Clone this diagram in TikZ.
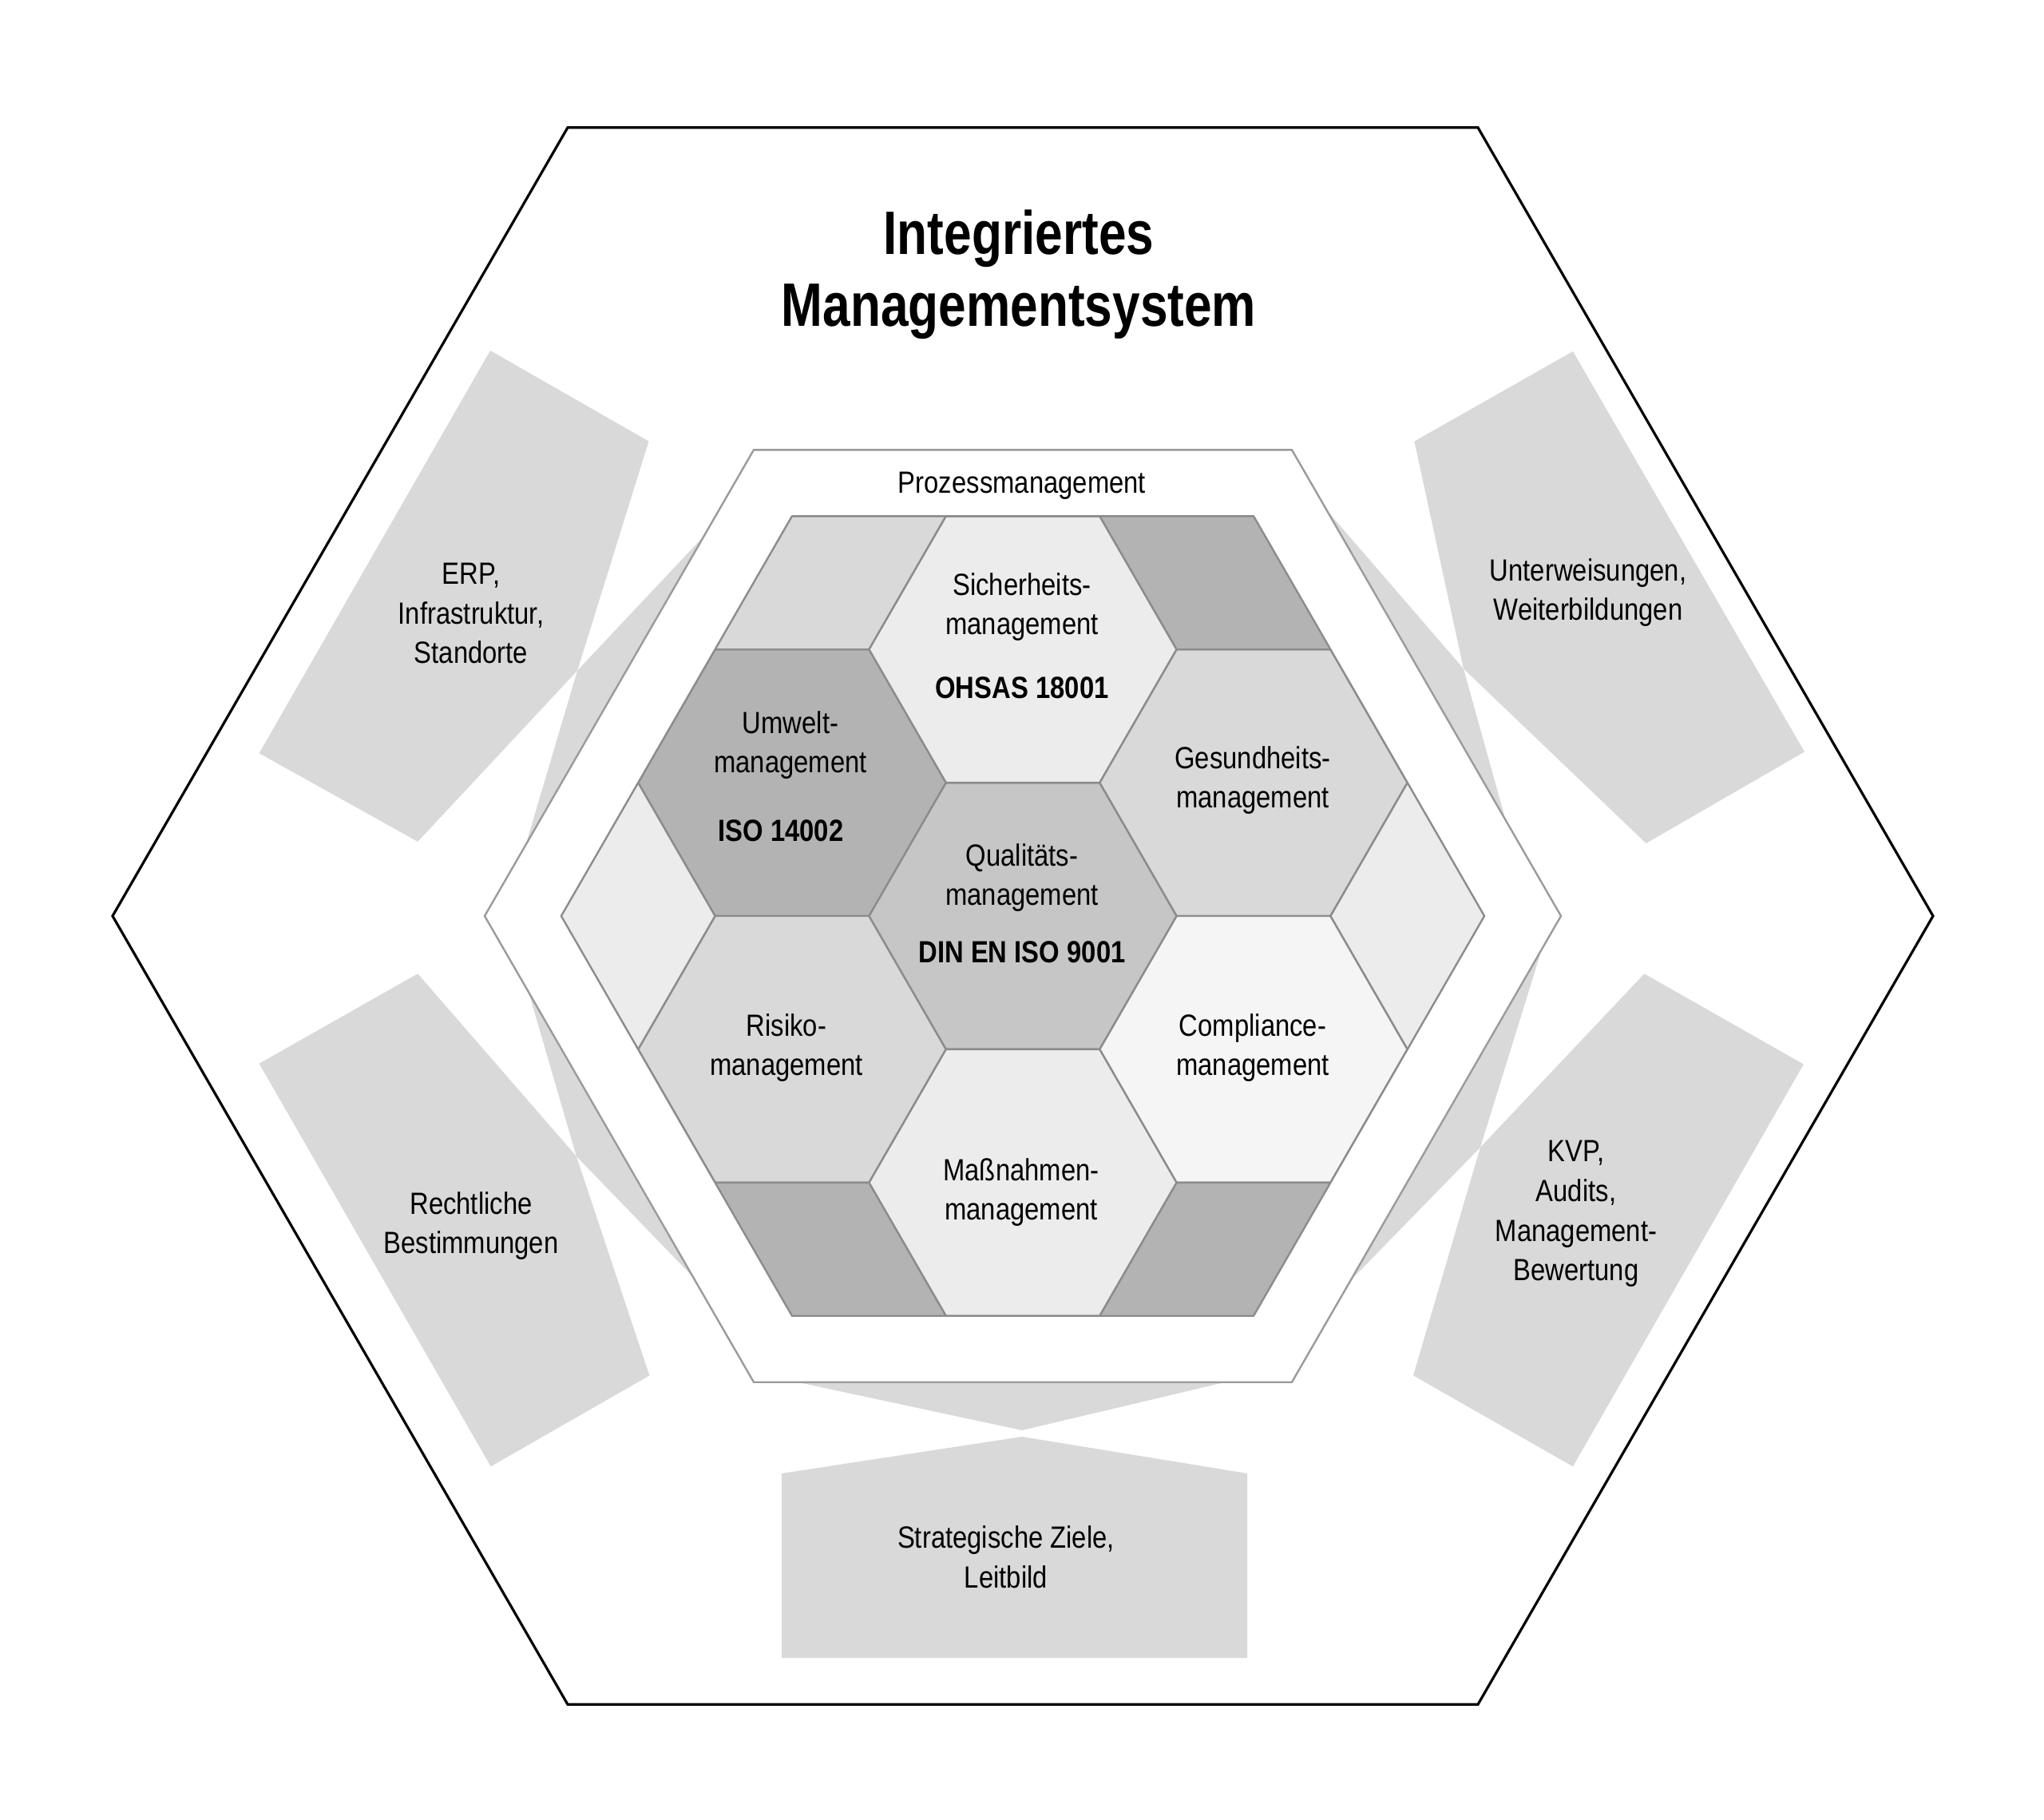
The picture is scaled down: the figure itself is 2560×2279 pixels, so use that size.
\documentclass[tikz,border=0pt]{standalone}
\usepackage{fontspec}
\setmainfont{Liberation Sans}[FakeStretch=0.855]
\newfontfamily\titelfont{Liberation Sans}[FakeStretch=0.81]

\definecolor{flaeche}{HTML}{D9D9D9}
\definecolor{zdunkel}{HTML}{B3B3B3}
\definecolor{zmittel}{HTML}{C6C6C6}
\definecolor{zgrau}{HTML}{D9D9D9}
\definecolor{zhell}{HTML}{ECECEC}
\definecolor{zweiss}{HTML}{F5F5F5}
\definecolor{zellrand}{HTML}{8C8C8C}
\definecolor{prozessrand}{HTML}{9B9B9B}

\begin{document}
\begin{tikzpicture}[x=0.25pt,y=-0.25pt,
    imstext/.style={align=center,font=\fontsize{9.6}{12.4}\selectfont},
    imsbold/.style={font=\fontsize{9.6}{12.4}\selectfont\bfseries},
    imstitle/.style={align=center,font=\titelfont\fontsize{19.2}{22.65}\selectfont\bfseries},
    cell/.style={draw=zellrand,line width=0.6pt,line join=round}]

        \fill[white] (0,0) rectangle (2560,2279);
        \useasboundingbox (0,0) rectangle (2560,2279);

        % aeusseres Sechseck
        \draw[line width=0.8pt] (141,1147) -- (711,159.7) -- (1851,159.7) -- (2421,1147) -- (1851,2134.3) -- (711,2134.3) -- cycle;

        % graue Felder mit Spitzen
        \fill[flaeche] (614,439) -- (812.5,552.6) -- (723.2,839.6) -- (523.2,1053.9) -- (324.6,943.2) -- cycle;
        \fill[flaeche] (723.2,839.6) -- (911,640) -- (1281,1147) -- (640,1120) -- cycle;

        \fill[flaeche] (1970,440) -- (2260,941.4) -- (2061.6,1056) -- (1833,837.4) -- (1771.4,552.6) -- cycle;
        \fill[flaeche] (1833,837.4) -- (1628,600) -- (1281,1147) -- (1906,1100) -- cycle;

        \fill[flaeche] (523.2,1219.3) -- (721.9,1447.9) -- (813.4,1722.4) -- (614.7,1836.3) -- (324.6,1331.8) -- cycle;
        \fill[flaeche] (721.9,1447.9) -- (644,1180) -- (1281,1147) -- (927,1660) -- cycle;

        \fill[flaeche] (2059.4,1219.3) -- (2258.9,1332.7) -- (1970,1836.3) -- (1770,1722.4) -- (1854,1436.7) -- cycle;
        \fill[flaeche] (1854,1436.7) -- (1943,1150) -- (1281,1147) -- (1646,1650) -- cycle;

        \fill[flaeche] (979,1845) -- (1280,1799) -- (1562,1845) -- (1562,2076) -- (979,2076) -- cycle;
        \fill[flaeche] (1280,1791) -- (949,1720) -- (1281,1147) -- (1580,1720) -- cycle;

        % Prozessmanagement
        \filldraw[fill=white,draw=prozessrand,line width=0.6pt] (607,1147) -- (944,563.3) -- (1618,563.3) -- (1955,1147) -- (1618,1730.7) -- (944,1730.7) -- cycle;

        % Waben
        \begin{scope}[shift={(1281,1147)}]
            \clip (-578.1,0) -- (-289.05,-500.7) -- (289.05,-500.7) -- (578.1,0) -- (289.05,500.7) -- (-289.05,500.7) -- cycle;
            \foreach \cx/\cy/\farbe in {0/0/zmittel, 0/-333.8/zhell, 0/333.8/zhell,
                    -289.05/-166.9/zdunkel, -289.05/166.9/zgrau, 289.05/-166.9/zgrau, 289.05/166.9/zweiss,
                    -289.05/-500.7/zgrau, 289.05/-500.7/zdunkel, -578.1/0/zhell, 578.1/0/zhell,
                    -289.05/500.7/zdunkel, 289.05/500.7/zdunkel}
                \filldraw[cell,fill=\farbe] (\cx+192.7,\cy) -- (\cx+96.35,\cy-166.9) -- (\cx-96.35,\cy-166.9) -- (\cx-192.7,\cy) -- (\cx-96.35,\cy+166.9) -- (\cx+96.35,\cy+166.9) -- cycle;
        \end{scope}
        \draw[cell] (702.9,1147) -- (991.95,646.3) -- (1570.05,646.3) -- (1859.1,1147) -- (1570.05,1647.7) -- (991.95,1647.7) -- cycle;

        % Texte
        \node[imstitle] (titel) at (1276,344) {Integriertes\\Managementsystem};
        \node[imstext] (prozess) at (1280,608) {Prozessmanagement};
        \node[imstext] (sicherheit) at (1280,760) {Sicherheits-\\management};
        \node[imsbold] (ohsas) at (1280,861) {OHSAS 18001};
        \node[imstext] (umwelt) at (990,933) {Umwelt-\\management};
        \node[imsbold] (iso14002) at (978,1040) {ISO 14002};
        \node[imstext] (qualitaet) at (1280,1099) {Qualitäts-\\management};
        \node[imsbold] (iso9001) at (1280,1192) {DIN EN ISO 9001};
        \node[imstext] (gesundheit) at (1569,977) {Gesundheits-\\management};
        \node[imstext] (risiko) at (985,1312) {Risiko-\\management};
        \node[imstext] (compliance) at (1569,1312) {Compliance-\\management};
        \node[imstext] (massnahmen) at (1279,1493) {Maßnahmen-\\management};
        \node[imstext] (erp) at (590,768) {ERP,\\Infrastruktur,\\Standorte};
        \node[imstext] (unterweisung) at (1989,742) {Unterweisungen,\\Weiterbildungen};
        \node[imstext] (recht) at (590,1535) {Rechtliche\\Bestimmungen};
        \node[imstext] (kvp) at (1974,1520) {KVP,\\Audits,\\Management-\\Bewertung};
        \node[imstext] (strategie) at (1260,1950) {Strategische Ziele,\\Leitbild};
    \end{tikzpicture}
\end{document}
